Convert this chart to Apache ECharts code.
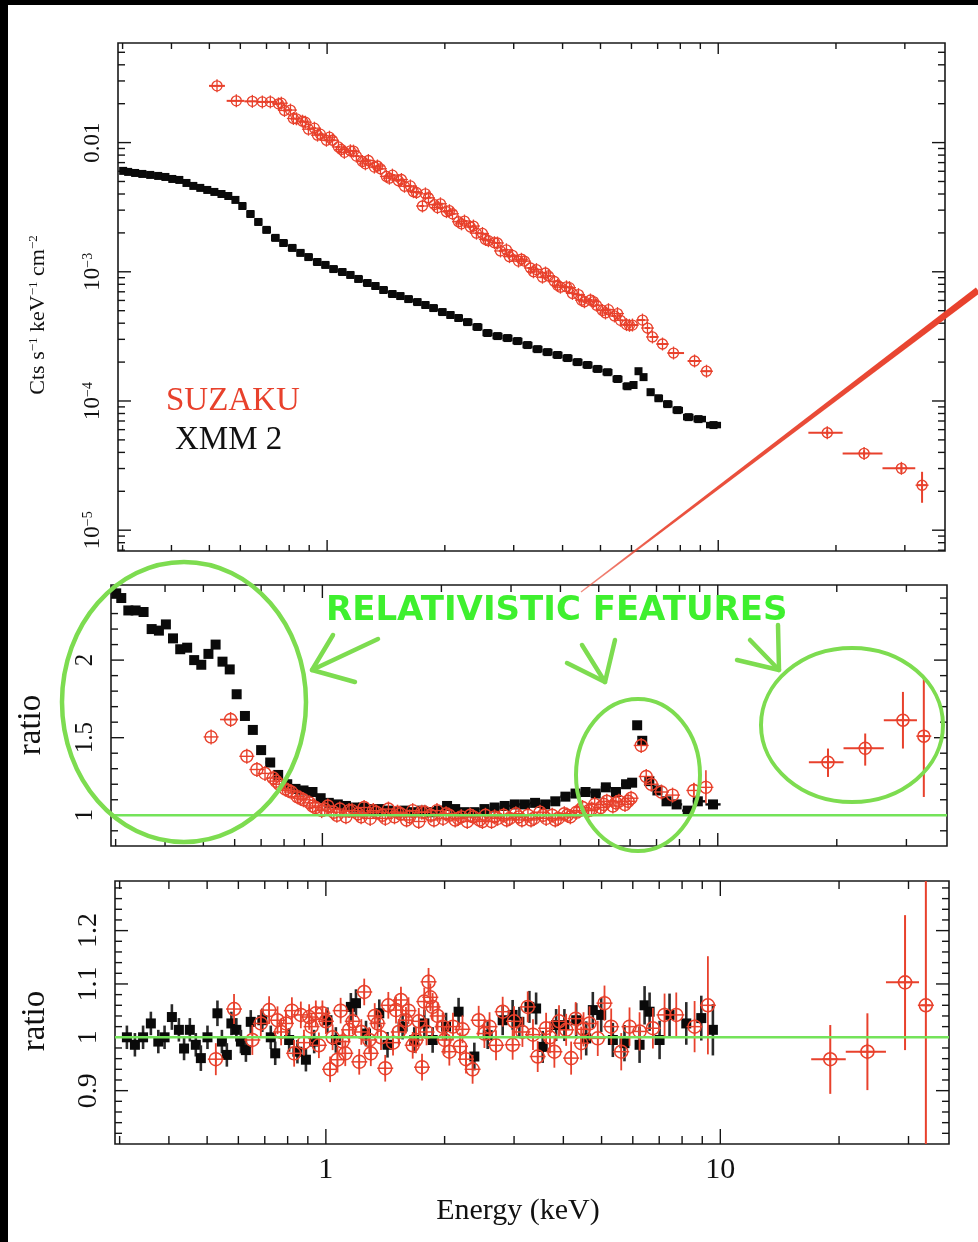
<!DOCTYPE html>
<html>
<head>
<meta charset="utf-8">
<script src="https://cdn.jsdelivr.net/npm/echarts@6/dist/echarts.min.js"></script>
<style>
  html, body { margin: 0; padding: 0; background: #000; }
  #sheet { position: absolute; left: 8px; top: 5px; width: 970px; height: 1237px; background: #fff; }
  #chart { position: absolute; left: 0; top: 0; width: 978px; height: 1242px; }
</style>
</head>
<body>
<div id="sheet"></div>
<div id="chart"></div>
<script>
// ---------- axis ranges and tick values ----------
const energyRange = [0.292, 38];
const fluxRange = [6.9e-6, 0.059];
const ratioRange = [0.802, 2.484];
const residRange = [0.80, 1.293];

const energyMajorTicks = [1, 10];
const energyMinorTicks = [0.3, 0.4, 0.5, 0.6, 0.7, 0.8, 0.9, 2, 3, 4, 5, 6, 7, 8, 9, 20, 30];
const fluxMajorTicks = [1e-5, 1e-4, 1e-3, 1e-2];
const fluxMinorTicks = [7e-6, 8e-6, 9e-6,
  2e-5, 3e-5, 4e-5, 5e-5, 6e-5, 7e-5, 8e-5, 9e-5,
  2e-4, 3e-4, 4e-4, 5e-4, 6e-4, 7e-4, 8e-4, 9e-4,
  2e-3, 3e-3, 4e-3, 5e-3, 6e-3, 7e-3, 8e-3, 9e-3,
  0.02, 0.03, 0.04, 0.05];
const ratioMajorTicks = [1, 1.5, 2];
const ratioMinorTicks = [0.9, 1.1, 1.2, 1.3, 1.4, 1.6, 1.7, 1.8, 1.9, 2.1, 2.2, 2.3, 2.4];
const residMajorTicks = [0.9, 1, 1.1, 1.2];
const residMinorTicks = [0.82, 0.84, 0.86, 0.88, 0.92, 0.94, 0.96, 0.98, 1.02, 1.04, 1.06, 1.08,
  1.12, 1.14, 1.16, 1.18, 1.22, 1.24, 1.26, 1.28];

// ---------- XMM 2 (pn) spectrum, keV / counts s^-1 keV^-1 cm^-2 ----------
const xmmEnergy = [0.301, 0.310, 0.323, 0.337, 0.353, 0.370, 0.386, 0.402, 0.419, 0.437,
  0.455, 0.474, 0.494, 0.515, 0.537, 0.559, 0.583, 0.607, 0.637, 0.667,
  0.700, 0.738, 0.773, 0.815, 0.855, 0.896, 0.944, 0.990, 1.038, 1.094,
  1.147, 1.202, 1.268, 1.329, 1.393, 1.469, 1.539, 1.614, 1.702, 1.784,
  1.870, 1.972, 2.067, 2.167, 2.285, 2.423, 2.570, 2.727, 2.892, 3.067,
  3.253, 3.451, 3.660, 3.882, 4.118, 4.368, 4.632, 4.913, 5.211, 5.527,
  5.862, 6.074, 6.254, 6.442, 6.713, 7.037, 7.420, 7.869, 8.395, 8.904, 9.727];
const xmmFlux = [6.04e-3, 5.93e-3, 5.82e-3, 5.72e-3, 5.62e-3, 5.52e-3, 5.42e-3, 5.23e-3, 5.14e-3, 4.87e-3,
  4.62e-3, 4.46e-3, 4.30e-3, 4.15e-3, 4.00e-3, 3.86e-3, 3.60e-3, 3.23e-3, 2.80e-3, 2.43e-3,
  2.11e-3, 1.83e-3, 1.67e-3, 1.53e-3, 1.40e-3, 1.30e-3, 1.19e-3, 1.13e-3, 1.05e-3, 9.96e-4,
  9.45e-4, 8.80e-4, 8.19e-4, 7.76e-4, 7.23e-4, 6.73e-4, 6.49e-4, 6.15e-4, 5.83e-4, 5.53e-4,
  5.24e-4, 4.88e-4, 4.63e-4, 4.39e-4, 4.08e-4, 3.74e-4, 3.36e-4, 3.18e-4, 3.07e-4, 2.91e-4,
  2.71e-4, 2.52e-4, 2.39e-4, 2.27e-4, 2.15e-4, 2.00e-4, 1.90e-4, 1.77e-4, 1.67e-4, 1.48e-4,
  1.30e-4, 1.33e-4, 1.70e-4, 1.53e-4, 1.17e-4, 1.05e-4, 9.46e-5, 8.50e-5, 7.50e-5, 7.24e-5, 6.51e-5];
// data / power-law ratio on the same bins
const xmmRatio = [2.43, 2.40, 2.32, 2.32, 2.31, 2.20, 2.19, 2.23, 2.14, 2.07,
  2.08, 2.00, 1.97, 2.04, 2.10, 1.99, 1.94, 1.78, 1.64, 1.55,
  1.42, 1.34, 1.26, 1.20, 1.17, 1.16, 1.15, 1.11, 1.08, 1.07,
  1.06, 1.05, 1.05, 1.04, 1.04, 1.03, 1.02, 1.03, 1.02, 1.03,
  1.02, 1.03, 1.06, 1.04, 1.02, 1.02, 1.04, 1.05, 1.06, 1.07,
  1.07, 1.08, 1.07, 1.09, 1.12, 1.14, 1.15, 1.14, 1.18, 1.15,
  1.20, 1.21, 1.58, 1.48, 1.22, 1.16, 1.09, 1.07, 1.03, 1.09, 1.07];

// ---------- SUZAKU XIS spectrum ----------
const suzakuEnergy = [0.523, 0.586, 0.644, 0.683, 0.716,
  0.751, 0.778, 0.806, 0.835, 0.865, 0.896, 0.928, 0.961, 0.996, 1.032,
  1.069, 1.107, 1.147, 1.188, 1.231, 1.275, 1.321, 1.369, 1.418, 1.469,
  1.522, 1.577, 1.633, 1.692, 1.753, 1.816, 1.881, 1.949, 2.019, 2.092,
  2.167, 2.245, 2.325, 2.409, 2.496, 2.585, 2.678, 2.775, 2.874, 2.978,
  3.085, 3.196, 3.311, 3.430, 3.553, 3.681, 3.813, 3.950, 4.092, 4.239,
  4.392, 4.550, 4.713, 4.883, 5.058, 5.240, 5.429, 5.624, 5.826, 6.035,
  6.402, 6.593, 6.790, 7.203, 7.686, 8.699, 9.333];
const suzakuFlux = [0.02749, 0.02104, 0.02085, 0.02066, 0.02066,
  0.01994, 0.01773, 0.01785, 0.01528, 0.01464, 0.01270, 0.01293, 0.01162, 0.01042, 0.01043,
  0.00925, 0.00840, 0.00864, 0.00786, 0.00714, 0.00727, 0.00646, 0.00627, 0.00547, 0.00560,
  0.00507, 0.00459, 0.00462, 0.00411, 0.00323, 0.00374, 0.00331, 0.00336, 0.00292, 0.00281,
  0.00244, 0.00247, 0.00222, 0.00199, 0.00198, 0.00174, 0.00168, 0.00145, 0.00148, 0.00134,
  0.00121, 0.00121, 0.00107, 0.00104, 0.000908, 0.000929, 0.000841, 0.000760, 0.000765, 0.000680,
  0.000666, 0.000586, 0.000605, 0.000551, 0.000502, 0.000509, 0.000455, 0.000421, 0.000390, 0.000387,
  0.000423, 0.000367, 0.000313, 0.000276, 0.000235, 0.000204, 0.000170];
const suzakuRatio = [1.505, 1.617, 1.38, 1.295, 1.27,
  1.24, 1.20, 1.17, 1.15, 1.12, 1.10, 1.08, 1.05, 1.03, 1.06,
  1.02, 1.04, 0.99, 1.03, 1.01, 1.05, 0.98, 1.02, 1.00, 1.04,
  0.99, 1.01, 0.97, 1.03, 0.96, 1.02, 1.00, 1.03, 0.98, 1.00,
  0.97, 0.99, 0.96, 0.99, 0.97, 1.00, 0.96, 0.98, 1.00, 0.98,
  1.01, 0.97, 1.00, 0.98, 1.02, 0.98, 1.00, 0.98, 1.01, 0.99,
  1.02, 1.05, 1.03, 1.07, 1.05, 1.09, 1.06, 1.09, 1.07, 1.11,
  1.45, 1.25, 1.20, 1.15, 1.13, 1.16, 1.18];
// further XIS channels interleaved with the ones above
const suzakuEnergyB = [0.764, 0.820, 0.880, 0.945, 1.014, 1.088, 1.168, 1.253, 1.345, 1.443,
  1.549, 1.662, 1.784, 1.915, 2.055, 2.206, 2.367, 2.540, 2.726, 2.926,
  3.140, 3.370, 3.617, 3.882, 4.166, 4.471, 4.798, 5.149, 5.526, 5.931];
const suzakuFluxB = [0.02019, 0.01537, 0.01439, 0.01141, 0.01101, 0.00886, 0.00859, 0.00685, 0.00659, 0.00530,
  0.00518, 0.00417, 0.00401, 0.00314, 0.00297, 0.00235, 0.00226, 0.00178, 0.00167, 0.00131,
  0.00125, 0.00100, 0.000979, 0.000786, 0.000754, 0.000603, 0.000588, 0.000480, 0.000475, 0.000385];
const suzakuRatioB = [1.22, 1.16, 1.11, 1.06, 1.04, 1.00, 1.03, 0.99, 1.03, 0.98,
  1.02, 0.99, 1.02, 0.97, 1.01, 0.98, 1.00, 0.96, 0.99, 0.97,
  0.99, 0.97, 1.00, 0.97, 1.00, 1.03, 1.04, 1.07, 1.08, 1.09];
// hand-set energy error bars for wide bins: [bin energy, E low, E high]
const suzakuFluxBins = [[0.523, 0.499, 0.548], [8.699, 8.35, 9.06], [9.333, 9.06, 9.60]];
const suzakuRatioBins = [[0.586, 0.551, 0.612]];
// visible ratio error bars: [bin energy, low, high]
const suzakuRatioErr = [[8.699, 1.13, 1.21], [9.333, 1.077, 1.29]];

// ---------- SUZAKU HXD/PIN ----------
const pinEnergy = [19.0, 23.6, 29.4, 33.2];
const pinEnergyLo = [17.0, 20.8, 26.3, 32.3];
const pinEnergyHi = [20.8, 26.3, 31.9, 34.1];
const pinFlux = [5.68e-5, 3.93e-5, 3.01e-5, 2.23e-5];
const pinFluxLo = [5.4e-5, 3.7e-5, 2.8e-5, 1.63e-5];
const pinFluxHi = [6.0e-5, 4.15e-5, 3.25e-5, 2.83e-5];
const pinRatio = [1.342, 1.432, 1.613, 1.51];
const pinRatioLo = [1.247, 1.32, 1.43, 1.118];
const pinRatioHi = [1.43, 1.527, 1.795, 1.89];
const pinResid = [0.959, 0.973, 1.103, 1.06];
const pinResidLo = [0.894, 0.901, 0.976, 0.60];
const pinResidHi = [1.023, 1.045, 1.229, 1.60];

// ---------- residuals of the relativistic model ----------
const xmmResidEnergy = [0.313, 0.328, 0.344, 0.360, 0.376, 0.390, 0.407, 0.424, 0.437, 0.452,
  0.468, 0.482, 0.501, 0.531, 0.545, 0.561, 0.576, 0.593, 0.609, 0.627,
  0.645, 0.690, 0.725, 0.744, 0.807, 0.847, 0.890, 0.934, 1.009, 1.060,
  1.157, 1.192, 1.264, 1.366, 1.433, 1.565, 1.675, 1.777, 1.865, 2.017,
  2.170, 2.379, 2.572, 2.807, 2.975, 3.094, 3.281, 3.412, 3.546, 3.835,
  4.025, 4.311, 4.571, 4.751, 4.989, 5.340, 5.715, 6.242, 6.427, 6.618,
  7.015, 7.435, 8.198, 8.948, 9.576];
const xmmResid = [1.00, 0.986, 1.00, 1.026, 0.992, 1.00, 1.038, 1.014, 0.979, 1.014,
  0.986, 0.961, 1.00, 1.045, 0.992, 0.967, 1.026, 1.014, 0.992, 0.976,
  1.029, 1.032, 1.00, 0.970, 0.995, 0.973, 0.958, 0.992, 1.032, 0.995,
  1.057, 1.064, 1.007, 1.045, 0.986, 1.02, 0.995, 1.026, 0.995, 1.02,
  1.048, 0.964, 1.004, 1.032, 1.042, 1.029, 1.057, 1.054, 0.982, 1.023,
  1.023, 1.032, 0.998, 1.051, 1.042, 0.995, 0.989, 0.986, 1.06, 1.048,
  0.995, 1.042, 1.026, 1.036, 1.014];
const xmmResidErr = [0.022, 0.022, 0.022, 0.022, 0.022, 0.022, 0.024, 0.022, 0.022, 0.022,
  0.022, 0.024, 0.022, 0.024, 0.022, 0.022, 0.022, 0.022, 0.022, 0.022,
  0.022, 0.022, 0.022, 0.022, 0.022, 0.022, 0.022, 0.022, 0.024, 0.024,
  0.026, 0.026, 0.024, 0.026, 0.024, 0.024, 0.024, 0.026, 0.024, 0.026,
  0.026, 0.026, 0.026, 0.028, 0.028, 0.028, 0.030, 0.030, 0.030, 0.030,
  0.030, 0.032, 0.032, 0.034, 0.032, 0.032, 0.034, 0.034, 0.036, 0.036,
  0.036, 0.040, 0.040, 0.042, 0.048];

const suzakuResidEnergy = [0.526, 0.585, 0.651, 0.684, 0.718, 0.754, 0.77, 0.792, 0.82, 0.831,
  0.864, 0.88, 0.907, 0.92, 0.943, 0.96, 0.980, 1.00, 1.025, 1.04,
  1.070, 1.09, 1.102, 1.12, 1.146, 1.17, 1.215, 1.23, 1.251, 1.288,
  1.30, 1.33, 1.352, 1.38, 1.414, 1.44, 1.48, 1.506, 1.53, 1.550,
  1.596, 1.62, 1.66, 1.692, 1.72, 1.753, 1.776, 1.80, 1.821, 1.84,
  1.865, 1.92, 1.977, 2.00, 2.056, 2.10, 2.188, 2.22, 2.266, 2.355,
  2.440, 2.523, 2.60, 2.70, 2.807, 2.975, 3.0, 3.15, 3.249, 3.35,
  3.444, 3.617, 3.70, 3.796, 3.90, 4.066, 4.186, 4.30, 4.438, 4.50,
  4.659, 4.890, 5.086, 5.289, 5.608, 5.886, 6.242, 6.746, 7.222, 7.733,
  8.606, 9.301];
const suzakuResid = [0.959, 1.053, 0.995, 1.026, 1.051, 1.032, 1.01, 1.026, 1.05, 0.970,
  1.042, 0.99, 1.038, 1.02, 1.045, 0.985, 1.045, 1.03, 0.940, 1.00,
  0.958, 1.05, 0.992, 0.97, 1.014, 1.03, 0.954, 1.01, 1.085, 0.995,
  0.97, 1.04, 1.026, 1.00, 0.942, 1.06, 0.99, 1.051, 1.01, 1.07,
  1.032, 1.05, 0.985, 0.995, 1.03, 0.944, 1.067, 1.01, 1.104, 1.075,
  1.057, 1.04, 1.02, 0.995, 0.973, 1.02, 0.983, 1.015, 0.959, 0.940,
  1.032, 1.007, 1.02, 0.985, 1.048, 0.986, 1.03, 1.01, 1.057, 1.005,
  0.964, 1.017, 1.00, 0.973, 1.03, 1.014, 0.961, 1.035, 0.989, 1.015,
  1.026, 0.998, 1.064, 1.02, 0.973, 1.02, 1.011, 1.017, 1.042, 1.042,
  1.02, 1.06];
const suzakuResidErr = [0.030, 0.028, 0.028, 0.026, 0.026, 0.026, 0.025, 0.025, 0.025, 0.025,
  0.025, 0.024, 0.024, 0.024, 0.024, 0.024, 0.024, 0.024, 0.024, 0.024,
  0.024, 0.024, 0.024, 0.024, 0.024, 0.024, 0.024, 0.024, 0.025, 0.024,
  0.024, 0.024, 0.024, 0.024, 0.025, 0.025, 0.024, 0.025, 0.024, 0.025,
  0.025, 0.025, 0.025, 0.025, 0.025, 0.025, 0.026, 0.025, 0.026, 0.026,
  0.026, 0.026, 0.026, 0.026, 0.026, 0.026, 0.026, 0.026, 0.027, 0.027,
  0.027, 0.027, 0.027, 0.028, 0.028, 0.028, 0.028, 0.028, 0.029, 0.029,
  0.029, 0.029, 0.030, 0.030, 0.030, 0.030, 0.031, 0.031, 0.031, 0.032,
  0.032, 0.033, 0.033, 0.034, 0.035, 0.036, 0.036, 0.038, 0.040, 0.042,
  0.048, 0.092];

// ---------- colours / fonts ----------
const RED = '#e8412c';
const BLACK = '#0a0a0a';
const UNITY = '#74e35a';
const SKETCH = '#7ddc50';
const SERIF = "'Liberation Serif', 'DejaVu Serif', serif";

// ---------- data item builders: [E, y, Elo, Ehi, ylo, yhi] ----------
// join two channel sets and order them by energy
function mergeChannels(eA, yA, eB, yB) {
  const pts = eA.map((e, i) => [e, yA[i]]).concat(eB.map((e, i) => [e, yB[i]]));
  pts.sort((a, b) => a[0] - b[0]);
  return [pts.map(p => p[0]), pts.map(p => p[1])];
}
function plain(es, ys) {
  return es.map((e, i) => [e, ys[i], e, e, ys[i], ys[i]]);
}
// channel bins: edges halfway (in log E) between neighbouring bin centres
function binned(es, ys) {
  const n = es.length;
  return es.map((e, i) => {
    const lo = i > 0 ? Math.sqrt(es[i - 1] * e) : e / Math.sqrt(es[i + 1] / e);
    const hi = i < n - 1 ? Math.sqrt(e * es[i + 1]) : e * Math.sqrt(e / es[i - 1]);
    return [e, ys[i], lo, hi, ys[i], ys[i]];
  });
}
function withYErr(items, errs) {
  items.forEach((it, i) => { it[4] = it[1] - errs[i]; it[5] = it[1] + errs[i]; });
  return items;
}
function applyBins(items, bins) {
  bins.forEach(([e, lo, hi]) => items.forEach(it => { if (it[0] === e) { it[2] = lo; it[3] = hi; } }));
  return items;
}
function applyYErr(items, errs) {
  errs.forEach(([e, lo, hi]) => items.forEach(it => { if (it[0] === e) { it[4] = lo; it[5] = hi; } }));
  return items;
}
function full(es, elo, ehi, ys, ylo, yhi) {
  return es.map((e, i) => [e, ys[i], elo[i], ehi[i], ylo[i], yhi[i]]);
}

const suzakuFluxAll = mergeChannels(suzakuEnergy, suzakuFlux, suzakuEnergyB, suzakuFluxB);
const suzakuRatioAll = mergeChannels(suzakuEnergy, suzakuRatio, suzakuEnergyB, suzakuRatioB);

// ---------- renderers ----------
function pointRenderer(kind, size, color, lw, barW, barColor) {
  return function (params, api) {
    const e = api.value(0), v = api.value(1);
    const p = api.coord([e, v]);
    const kids = [];
    const xl = api.value(2), xh = api.value(3), yl = api.value(4), yh = api.value(5);
    const bc = barColor || color;
    if (xh > xl) {
      // horizontal bar drawn as a filled strip
      const a = api.coord([xl, v]), b = api.coord([xh, v]);
      kids.push({ type: 'rect', shape: { x: a[0], y: p[1] - barW / 2, width: b[0] - a[0], height: barW },
        style: { fill: bc } });
    }
    if (yh > yl) {
      const a = api.coord([e, yl]), b = api.coord([e, yh]);
      kids.push({ type: 'line', shape: { x1: a[0], y1: a[1], x2: b[0], y2: b[1] },
        style: { stroke: bc, lineWidth: barW } });
    }
    if (kind === 'square') {
      kids.push({ type: 'rect', shape: { x: p[0] - size / 2, y: p[1] - size / 2, width: size, height: size },
        style: { fill: color } });
    } else {
      const r = size / 2, c = r + 1.5;
      kids.push({ type: 'circle', shape: { cx: p[0], cy: p[1], r: r },
        style: { fill: 'rgba(255,255,255,0)', stroke: color, lineWidth: lw } });
      kids.push({ type: 'line', shape: { x1: p[0] - c, y1: p[1], x2: p[0] + c, y2: p[1] },
        style: { stroke: color, lineWidth: lw } });
      kids.push({ type: 'line', shape: { x1: p[0], y1: p[1] - c, x2: p[0], y2: p[1] + c },
        style: { stroke: color, lineWidth: lw } });
    }
    return { type: 'group', children: kids };
  };
}

function pointSeries(grid, data, kind, size, color, lw, barW, barColor, z) {
  return {
    type: 'custom', xAxisIndex: grid, yAxisIndex: grid, clip: true, silent: true,
    z: z || 3, encode: { x: 0, y: 1 }, data: data,
    renderItem: pointRenderer(kind, size, color, lw, barW, barColor)
  };
}

// inward ticks on both bottom/top (energy) or left/right (y) edges of a panel
function tickSeries(grid, axis, majors, minors, yRange, lenMajor, lenMinor) {
  const data = [];
  majors.forEach(v => data.push(axis === 'x' ? [v, yRange[0], 1] : [energyRange[0], v, 1]));
  minors.forEach(v => data.push(axis === 'x' ? [v, yRange[0], 0] : [energyRange[0], v, 0]));
  return {
    type: 'custom', xAxisIndex: grid, yAxisIndex: grid, silent: true, z: 2,
    encode: { x: 0, y: 1 }, data: data,
    renderItem: function (params, api) {
      const v = axis === 'x' ? api.value(0) : api.value(1);
      const L = api.value(2) ? lenMajor : lenMinor;
      const st = { stroke: '#151515', lineWidth: 1.4 };
      if (axis === 'x') {
        const b = api.coord([v, yRange[0]]), t = api.coord([v, yRange[1]]);
        return { type: 'group', children: [
          { type: 'line', shape: { x1: b[0], y1: b[1], x2: b[0], y2: b[1] - L }, style: st },
          { type: 'line', shape: { x1: t[0], y1: t[1], x2: t[0], y2: t[1] + L }, style: st }
        ] };
      }
      const l = api.coord([energyRange[0], v]), r = api.coord([energyRange[1], v]);
      return { type: 'group', children: [
        { type: 'line', shape: { x1: l[0], y1: l[1], x2: l[0] + L, y2: l[1] }, style: st },
        { type: 'line', shape: { x1: r[0], y1: r[1], x2: r[0] - L, y2: r[1] }, style: st }
      ] };
    }
  };
}

function unityLine(grid) {
  return {
    type: 'line', xAxisIndex: grid, yAxisIndex: grid, z: 5, silent: true,
    showSymbol: false, symbol: 'none',
    data: [[energyRange[0], 1], [energyRange[1], 1]],
    lineStyle: { color: UNITY, width: 2.6 }
  };
}

// ---------- axes ----------
function energyAxis(grid, labels) {
  return {
    type: 'log', logBase: 10, gridIndex: grid, min: energyRange[0], max: energyRange[1],
    axisLine: { show: false }, axisTick: { show: false }, splitLine: { show: false },
    axisLabel: labels ? {
      show: true, customValues: energyMajorTicks, formatter: v => String(Math.round(v)),
      fontFamily: SERIF, fontSize: 30, color: '#111', margin: 11
    } : { show: false }
  };
}

const gridFrame = { show: true, borderColor: '#1a1a1a', borderWidth: 1.6, backgroundColor: 'transparent' };

const sketchLine = { stroke: SKETCH, lineWidth: 4.5, lineCap: 'round', lineJoin: 'round' };

const option = {
  animation: false,
  backgroundColor: 'transparent',
  grid: [
    Object.assign({ left: 118, top: 43, width: 827, height: 508 }, gridFrame),
    Object.assign({ left: 111, top: 585, width: 836, height: 261 }, gridFrame),
    Object.assign({ left: 115, top: 881, width: 834, height: 263 }, gridFrame)
  ],
  xAxis: [energyAxis(0, false), energyAxis(1, false), energyAxis(2, true)],
  yAxis: [
    {
      type: 'log', logBase: 10, gridIndex: 0, min: fluxRange[0], max: fluxRange[1],
      axisLine: { show: false }, axisTick: { show: false }, splitLine: { show: false },
      axisLabel: {
        customValues: fluxMajorTicks, rotate: 90, margin: 14,
        fontFamily: SERIF, fontSize: 23, color: '#111',
        formatter: v => (v > 0.005 ? '0.01' : '10{s|−' + Math.round(-Math.log10(v)) + '}'),
        rich: { s: { fontFamily: SERIF, fontSize: 14, color: '#111', verticalAlign: 'top', lineHeight: 14 } }
      }
    },
    {
      type: 'value', gridIndex: 1, min: ratioRange[0], max: ratioRange[1],
      axisLine: { show: false }, axisTick: { show: false }, splitLine: { show: false },
      axisLabel: {
        customValues: ratioMajorTicks, rotate: 90, margin: 13,
        fontFamily: SERIF, fontSize: 25, color: '#111', formatter: v => String(v)
      }
    },
    {
      type: 'value', gridIndex: 2, min: residRange[0], max: residRange[1],
      axisLine: { show: false }, axisTick: { show: false }, splitLine: { show: false },
      axisLabel: {
        customValues: residMajorTicks, rotate: 90, margin: 12,
        fontFamily: SERIF, fontSize: 28, color: '#111', formatter: v => String(v)
      }
    }
  ],
  series: [
    // ticks
    tickSeries(0, 'x', energyMajorTicks, energyMinorTicks, fluxRange, 11, 6),
    tickSeries(0, 'y', fluxMajorTicks, fluxMinorTicks, fluxRange, 13, 7),
    tickSeries(1, 'x', energyMajorTicks, energyMinorTicks, ratioRange, 13, 7),
    tickSeries(1, 'y', ratioMajorTicks, ratioMinorTicks, ratioRange, 13, 7),
    tickSeries(2, 'x', energyMajorTicks, energyMinorTicks, residRange, 15, 8),
    tickSeries(2, 'y', residMajorTicks, residMinorTicks, residRange, 13, 7),

    // spectra
    pointSeries(0, binned(xmmEnergy, xmmFlux), 'square', 8, BLACK, 1, 6.5),
    pointSeries(0, applyBins(binned(suzakuFluxAll[0], suzakuFluxAll[1]), suzakuFluxBins), 'circle', 10, RED, 1.3, 2, null, 4),
    pointSeries(0, full(pinEnergy, pinEnergyLo, pinEnergyHi, pinFlux, pinFluxLo, pinFluxHi), 'circle', 10, RED, 1.4, 2, null, 4),

    // ratio to power law
    pointSeries(1, withYErr(binned(xmmEnergy, xmmRatio), xmmEnergy.map(() => 0.02)), 'square', 10, BLACK, 1, 2.4),
    pointSeries(1, applyYErr(applyBins(plain(suzakuRatioAll[0], suzakuRatioAll[1]), suzakuRatioBins), suzakuRatioErr), 'circle', 12, RED, 1.4, 1.6, null, 4),
    pointSeries(1, full(pinEnergy, pinEnergyLo, pinEnergyHi, pinRatio, pinRatioLo, pinRatioHi), 'circle', 12, RED, 1.5, 2, null, 4),
    unityLine(1),

    // residuals of the relativistic fit
    pointSeries(2, withYErr(plain(xmmResidEnergy, xmmResid), xmmResidErr), 'square', 10, BLACK, 1, 2.6, '#2a2a2a'),
    pointSeries(2, withYErr(plain(suzakuResidEnergy, suzakuResid), suzakuResidErr), 'circle', 13, RED, 1.5, 1.8, null, 4),
    pointSeries(2, full(pinEnergy, pinEnergyLo, pinEnergyHi, pinResid, pinResidLo, pinResidHi), 'circle', 13, RED, 1.6, 2, null, 4),
    unityLine(2)
  ],
  graphic: [
    // axis titles
    { type: 'text', x: 38, y: 315, rotation: Math.PI / 2, z: 10,
      style: { text: 'Cts s{s|−1} keV{s|−1} cm{s|−2}', font: '22px ' + SERIF, fill: '#111',
        align: 'center', verticalAlign: 'middle',
        rich: { s: { fontSize: 13, fontFamily: SERIF, fill: '#111', verticalAlign: 'top', lineHeight: 13 } } } },
    { type: 'text', x: 31, y: 725, rotation: Math.PI / 2, z: 10,
      style: { text: 'ratio', font: '33px ' + SERIF, fill: '#111', align: 'center', verticalAlign: 'middle' } },
    { type: 'text', x: 35, y: 1021, rotation: Math.PI / 2, z: 10,
      style: { text: 'ratio', font: '33px ' + SERIF, fill: '#111', align: 'center', verticalAlign: 'middle' } },
    { type: 'text', x: 518, y: 1211, z: 10,
      style: { text: 'Energy (keV)', font: '30px ' + SERIF, fill: '#111', align: 'center', verticalAlign: 'middle' } },
    // instrument labels
    { type: 'text', x: 166, y: 401, z: 10,
      style: { text: 'SUZAKU', font: '33px ' + SERIF, fill: RED, align: 'left', verticalAlign: 'middle' } },
    { type: 'text', x: 175, y: 440, z: 10,
      style: { text: 'XMM 2', font: '33px ' + SERIF, fill: '#111', align: 'left', verticalAlign: 'middle' } },

    // red pointer stroke
    { type: 'polygon', z: 20,
      shape: { points: [[581.4, 592.5], [980.1, 293.0], [975.9, 287.4], [580.6, 591.5]] },
      style: { fill: { type: 'linear', x: 0, y: 1, x2: 1, y2: 0,
        colorStops: [{ offset: 0, color: 'rgba(232,65,44,0.6)' }, { offset: 0.2, color: 'rgba(232,65,44,0.9)' }, { offset: 1, color: RED }] } } },

    // annotation
    { type: 'text', x: 326, y: 611, z: 21,
      style: { text: 'RELATIVISTIC FEATURES', font: "bold 34px 'DejaVu Sans', sans-serif", fill: '#3ef02e',
        align: 'left', verticalAlign: 'middle' } },
    { type: 'ellipse', z: 21, shape: { cx: 184, cy: 702, rx: 122, ry: 140 },
      style: { fill: 'transparent', stroke: SKETCH, lineWidth: 4.5 } },
    { type: 'ellipse', z: 21, shape: { cx: 638, cy: 775, rx: 62, ry: 76 },
      style: { fill: 'transparent', stroke: SKETCH, lineWidth: 4 } },
    { type: 'ellipse', z: 21, shape: { cx: 852, cy: 725, rx: 91, ry: 77 },
      style: { fill: 'transparent', stroke: SKETCH, lineWidth: 4 } },
    { type: 'polyline', z: 21, shape: { points: [[378, 639], [312, 670]] }, style: sketchLine },
    { type: 'polyline', z: 21, shape: { points: [[333, 635], [312, 670], [355, 682]] }, style: sketchLine },
    { type: 'polyline', z: 21, shape: { points: [[582, 645], [605, 682]] }, style: sketchLine },
    { type: 'polyline', z: 21, shape: { points: [[567, 663], [605, 682], [615, 640]] }, style: sketchLine },
    { type: 'polyline', z: 21, shape: { points: [[750, 640], [779, 670]] }, style: sketchLine },
    { type: 'polyline', z: 21, shape: { points: [[737, 660], [779, 670], [778, 625]] }, style: sketchLine }
  ]
};

const chart = echarts.init(document.getElementById('chart'), null, { renderer: 'canvas' });
chart.setOption(option);
</script>
</body>
</html>
